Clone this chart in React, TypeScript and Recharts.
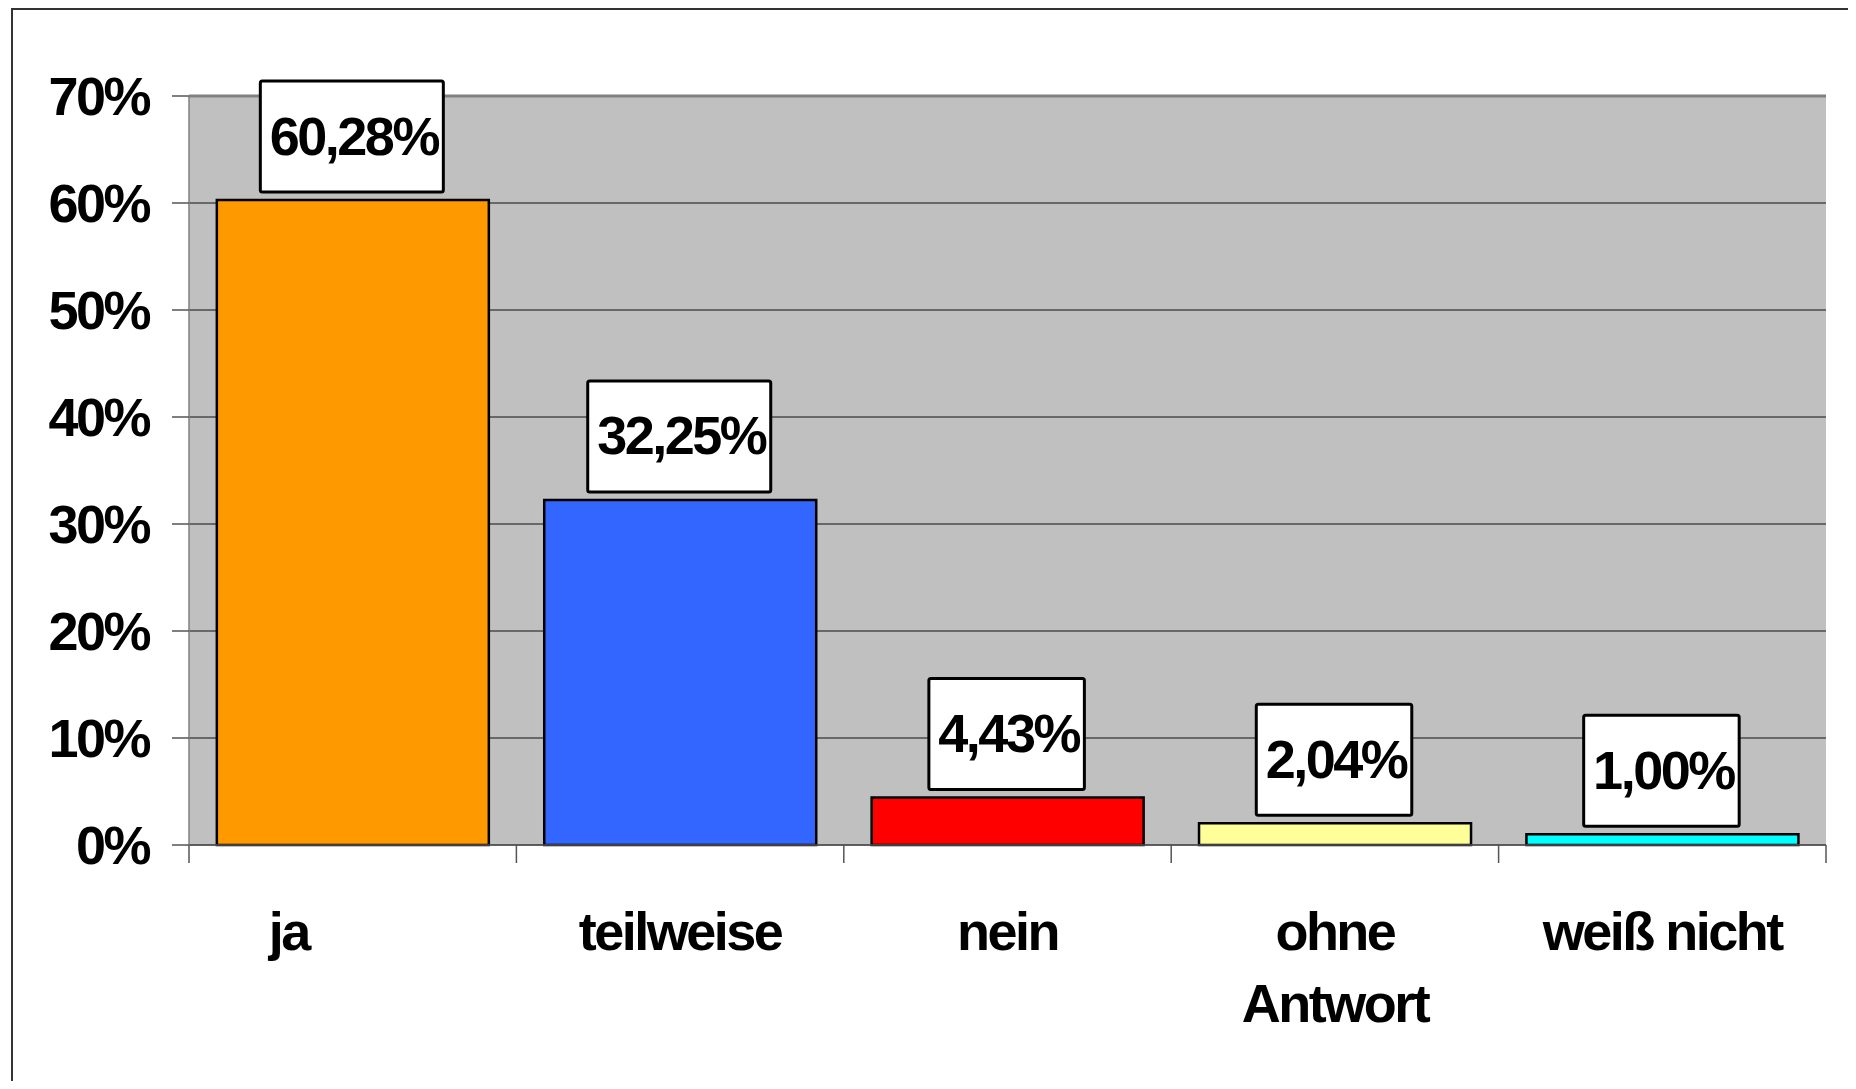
import { BarChart, Bar, XAxis, YAxis, CartesianGrid, Cell, LabelList, ReferenceLine } from "recharts";

const categories = ["ja", "teilweise", "nein", "ohne\nAntwort", "weiß nicht"];
const shares = [60.28, 32.25, 4.43, 2.04, 1.0];
const barColors = ["#FF9900", "#3366FF", "#FF0000", "#FFFF99", "#00FFFF"];
const yTicks = [0, 10, 20, 30, 40, 50, 60, 70];

const data = categories.map((name, i) => ({ name, value: shares[i] }));

const FONT = '"Liberation Sans", Arial, Helvetica, sans-serif';
const textStyle = { fontFamily: FONT, fontWeight: 700, fontSize: 54, letterSpacing: -2.5, fill: "#000" };

// fallback half band width (plot width / categories / 2)
const HALF_BAND = 1637 / categories.length / 2;
// the "ja" caption sits left of its bar
const captionShift: Record<string, number> = { ja: -64 };

const formatShare = (v: number) => v.toFixed(2).replace(".", ",") + "%";

function charWidth(c: string) {
  if (c === ",") return 12.5;
  if (c === "%") return 45.5;
  return 27.5;
}

function ValueBox(props: any) {
  const vb = props.viewBox ?? props;
  const { x, y, width } = vb;
  const label = formatShare(Number(props.value));
  const boxW = label.split("").reduce((s, c) => s + charWidth(c), 0) + 15;
  const boxH = 111;
  const cx = x + width / 2 - 1;
  const bottom = y - 8;
  return (
    <g>
      <rect x={cx - boxW / 2} y={bottom - boxH} width={boxW} height={boxH} rx={2} fill="#fff" stroke="#000" strokeWidth={3} />
      <text x={cx + 2} y={bottom - boxH / 2 + 18} textAnchor="middle" style={textStyle}>
        {label}
      </text>
    </g>
  );
}

function CategoryTick(props: any) {
  const { x, y, payload } = props;
  const half = payload.offset || HALF_BAND;
  const index = props.index ?? payload.index;
  const lines = String(payload.value).split("\n");
  const tx = x + (captionShift[payload.value] ?? 0);
  return (
    <g>
      <line x1={x - half} x2={x - half} y1={y} y2={y + 18} stroke="#555" strokeWidth={1.5} />
      {index === categories.length - 1 && (
        <line x1={x + half} x2={x + half} y1={y} y2={y + 18} stroke="#555" strokeWidth={1.5} />
      )}
      <text x={tx} y={y + 105} textAnchor="middle" style={textStyle}>
        {lines.map((line, i) => (
          <tspan key={i} x={tx} dy={i === 0 ? 0 : 72}>
            {line}
          </tspan>
        ))}
      </text>
    </g>
  );
}

function PercentTick(props: any) {
  const { x, y, payload } = props;
  return (
    <text x={x} y={y + 19} textAnchor="end" style={textStyle}>
      {payload.value}%
    </text>
  );
}

export default function App() {
  return (
    <div style={{ position: "relative", width: 1840, height: 1073, overflow: "hidden", background: "#fff" }}>
      <div
        style={{
          position: "absolute",
          left: 3,
          top: 0,
          width: 1900,
          height: 1200,
          border: "2px solid #333",
          boxSizing: "border-box",
        }}
      />
      <div style={{ position: "absolute", left: 0, top: 0 }}>
        <BarChart
          width={1840}
          height={1073}
          data={data}
          margin={{ top: 88, right: 22, left: 0, bottom: 36 }}
          barCategoryGap="8.5%"
        >
          <CartesianGrid vertical={false} stroke="#111" strokeWidth={1.2} fill="#C0C0C0" fillOpacity={1} />
          <ReferenceLine y={70} stroke="#808080" strokeWidth={3} />
          <XAxis
            dataKey="name"
            interval={0}
            height={200}
            tickLine={false}
            tickSize={0}
            tickMargin={0}
            axisLine={{ stroke: "#555", strokeWidth: 1.5 }}
            tick={<CategoryTick />}
          />
          <YAxis
            width={181}
            domain={[0, 70]}
            ticks={yTicks}
            interval={0}
            tickSize={17}
            tickMargin={23}
            tickLine={{ stroke: "#555", strokeWidth: 1.5 }}
            axisLine={{ stroke: "#808080", strokeWidth: 1.5 }}
            tick={<PercentTick />}
          />
          <YAxis
            yAxisId="right"
            orientation="right"
            width={0}
            domain={[0, 70]}
            tick={false}
            tickLine={false}
            axisLine={{ stroke: "#808080", strokeWidth: 3 }}
          />
          <Bar dataKey="value" stroke="#000" strokeWidth={2.5} isAnimationActive={false}>
            {data.map((d, i) => (
              <Cell key={d.name} fill={barColors[i]} />
            ))}
            <LabelList dataKey="value" content={<ValueBox />} />
          </Bar>
        </BarChart>
      </div>
    </div>
  );
}
